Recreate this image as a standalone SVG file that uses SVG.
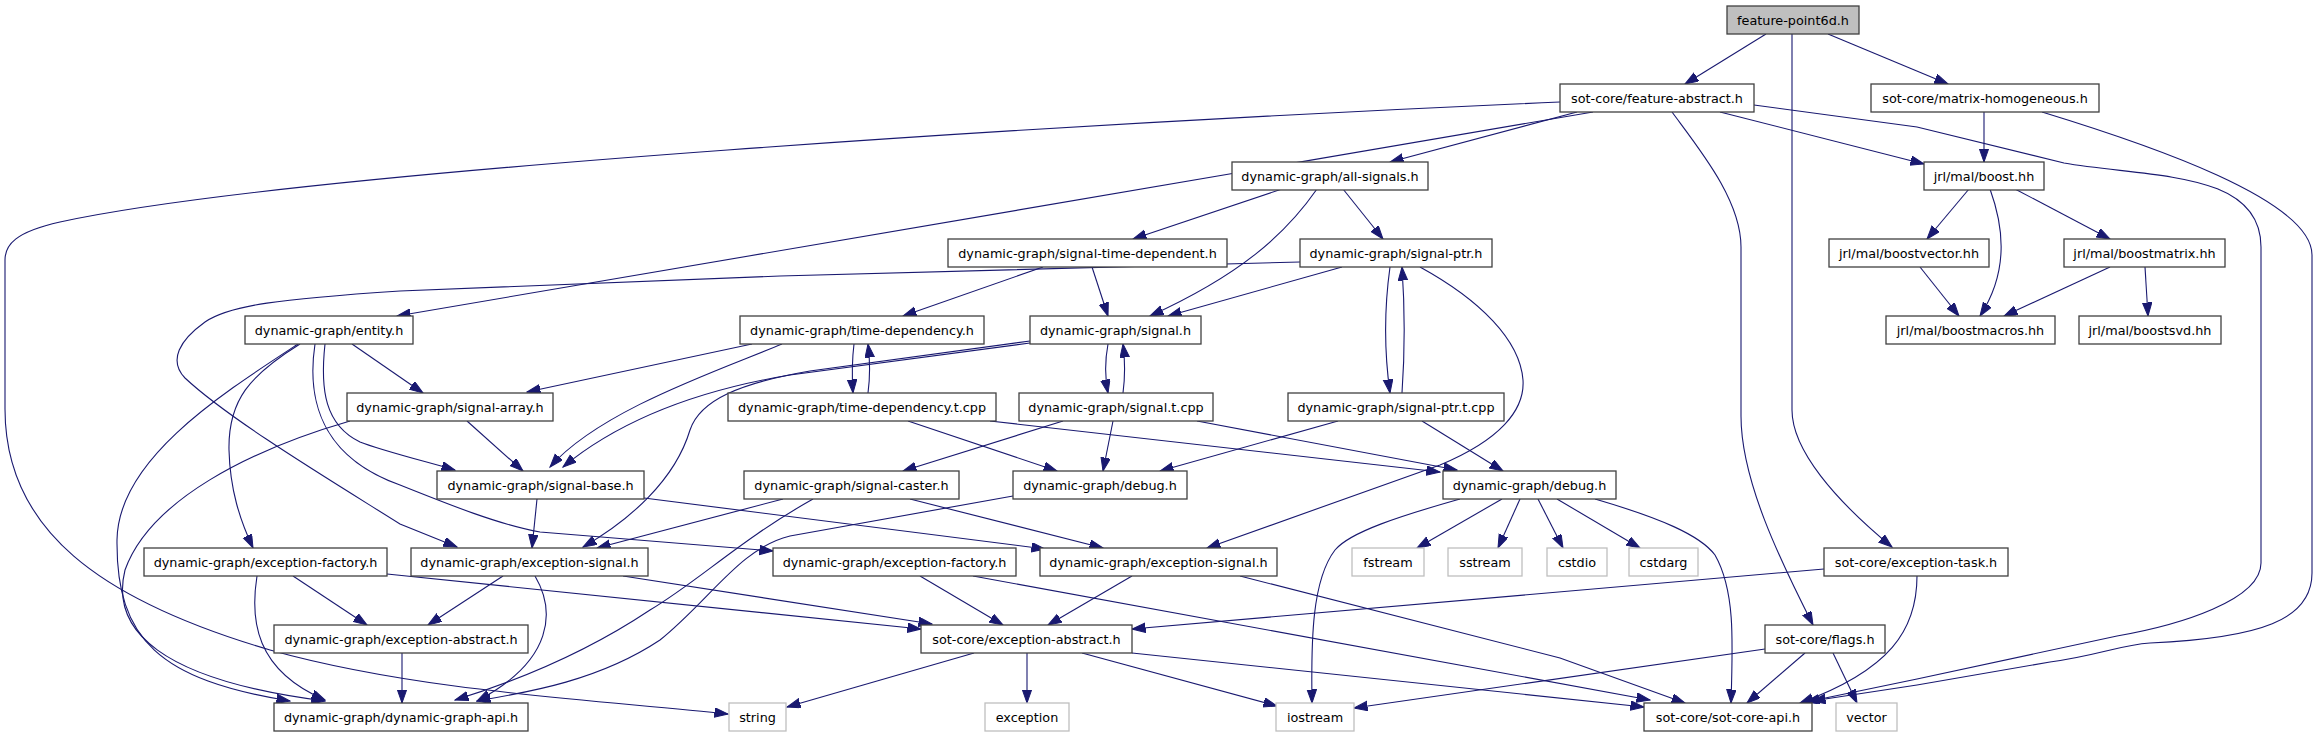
<svg xmlns="http://www.w3.org/2000/svg" width="2317" height="736" viewBox="0 0 2317 736">
<style>
.n rect{fill:#ffffff;stroke:#404040;stroke-width:1.3}
.x rect{fill:#ffffff;stroke:#bfbfbf;stroke-width:1.3}
.r rect{fill:#bfbfbf;stroke:#404040;stroke-width:1.3}
text{font-family:"DejaVu Sans","Liberation Sans",sans-serif;font-size:12.8px;fill:#000;text-anchor:middle}
#edges path{fill:none;stroke:#191970;stroke-width:1.1;marker-end:url(#ah)}
</style>
<defs>
<marker id="ah" markerWidth="15" markerHeight="11" refX="13.5" refY="4.75" orient="auto" markerUnits="userSpaceOnUse">
<path d="M0,0 L13.5,4.75 L0,9.5 z" fill="#191970" stroke="#191970" stroke-width="1"/>
</marker>
</defs>
<rect width="2317" height="736" fill="#ffffff"/>
<g id="edges">
<path d="M1766,34 L1685,84"/>
<path d="M1828,34 L1948,84"/>
<path d="M1792,34 L1792,410 C1792,450 1835,500 1892,547"/>
<path d="M1593,112 L397,316"/>
<path d="M1577,112 L1390,162"/>
<path d="M1720,112 L1924,164"/>
<path d="M1672,112 C1700,150 1741,200 1741,247 L1741,416 C1741,480 1780,560 1813,625"/>
<path d="M1754,105 L1917,127 L2064,163 C2150,178 2261,170 2261,247 L2261,563 C2261,600 2180,625 2117,636 L1917,679 L1806,702"/>
<path d="M1560,102 C1100,122 300,170 60,222 C15,232 5,245 5,260 L5,409 C5,530 100,600 270,650 C420,692 600,700 728,714"/>
<path d="M1984,112 L1984,162"/>
<path d="M2042,112 C2150,145 2312,200 2312,255 L2312,573 C2312,620 2260,638 2150,643 C2120,645 2100,655 2050,662 L1917,685 L1812,701"/>
<path d="M1969,189 L1927,239"/>
<path d="M1990,189 C2003,225 2010,270 1980,316"/>
<path d="M2015,189 L2110,239"/>
<path d="M1920,267 L1959,316"/>
<path d="M2110,267 L2004,316"/>
<path d="M2145,267 L2148,316"/>
<path d="M1282,189 L1133,239"/>
<path d="M1317,189 C1285,235 1240,275 1150,316"/>
<path d="M1343,189 L1383,239"/>
<path d="M1043,267 L903,316"/>
<path d="M1092,267 L1108,316"/>
<path d="M1342,267 L1168,316"/>
<path d="M1300,262 L780,276 L400,291 C280,299 230,305 205,322 C180,340 168,360 185,378 C230,420 330,480 400,524 L457,547"/>
<path d="M1390,267 C1384,310 1384,350 1390,393"/>
<path d="M1402,393 C1405,350 1405,310 1402,267"/>
<path d="M1420,267 C1480,300 1520,340 1523,380 C1525,410 1500,440 1440,465 L1207,548"/>
<path d="M1338,421 L1160,471"/>
<path d="M1422,421 L1503,471"/>
<path d="M1108,344 C1105,360 1105,378 1108,393"/>
<path d="M1123,393 C1125,378 1125,360 1123,344"/>
<path d="M1030,343 L790,375 C700,390 620,420 563,467"/>
<path d="M1030,341 L810,371 C740,383 700,400 690,430 C675,480 630,520 583,547"/>
<path d="M752,344 L527,392"/>
<path d="M782,344 C720,370 600,410 550,467"/>
<path d="M1113,421 L1103,471"/>
<path d="M1063,421 L903,471"/>
<path d="M1197,421 L1457,470"/>
<path d="M908,421 L1057,471"/>
<path d="M990,421 L1440,472"/>
<path d="M854,344 C852,360 852,378 853,393"/>
<path d="M868,393 C870,378 870,360 868,344"/>
<path d="M1502,499 L1417,548"/>
<path d="M1520,499 L1498,548"/>
<path d="M1538,499 L1563,548"/>
<path d="M1557,499 L1640,548"/>
<path d="M1595,499 C1660,518 1700,535 1715,555 C1735,590 1733,640 1731,703"/>
<path d="M1460,499 C1400,516 1350,532 1335,550 C1312,580 1311,640 1312,703"/>
<path d="M783,499 L597,548"/>
<path d="M910,499 L1103,548"/>
<path d="M813,499 C740,540 700,580 650,610 C590,650 520,680 455,700"/>
<path d="M1013,496 L790,536 C740,548 710,600 660,640 C600,680 530,692 477,701"/>
<path d="M537,499 L532,548"/>
<path d="M644,498 L1045,549"/>
<path d="M503,576 L428,625"/>
<path d="M535,576 C555,610 555,660 477,701"/>
<path d="M623,576 L932,624"/>
<path d="M387,574 L921,629"/>
<path d="M293,576 L367,625"/>
<path d="M257,576 C250,620 255,670 325,700"/>
<path d="M920,576 L1003,625"/>
<path d="M973,576 L1650,700"/>
<path d="M1132,576 L1048,625"/>
<path d="M1240,576 L1560,658 L1685,703"/>
<path d="M974,653 L787,707"/>
<path d="M1027,653 L1027,703"/>
<path d="M1082,653 L1277,706"/>
<path d="M1132,653 L1644,707"/>
<path d="M1805,653 L1747,703"/>
<path d="M1833,653 L1857,703"/>
<path d="M1765,649 L1354,708"/>
<path d="M1824,569 L1132,629"/>
<path d="M1917,576 C1917,630 1890,670 1800,703"/>
<path d="M402,653 L402,703"/>
<path d="M352,344 L423,393"/>
<path d="M325,344 C320,390 325,425 360,442 C380,450 420,460 455,470"/>
<path d="M315,344 C305,410 330,460 400,485 C450,505 500,525 540,532 L773,551"/>
<path d="M300,344 C250,375 228,400 229,450 C230,490 240,520 253,548"/>
<path d="M298,344 C220,395 118,460 117,540 C116,640 160,680 290,701"/>
<path d="M350,421 C250,450 150,500 125,570 C110,630 160,680 325,701"/>
<path d="M467,421 L523,471"/>
</g>
<g id="n_fp6d" class="r"><rect x="1727" y="6" width="132" height="28"/><text x="1793" y="25">feature-point6d.h</text></g>
<g id="n_fa" class="n"><rect x="1560" y="84" width="194" height="28"/><text x="1657" y="103">sot-core/feature-abstract.h</text></g>
<g id="n_mh" class="n"><rect x="1871" y="84" width="228" height="28"/><text x="1985" y="103">sot-core/matrix-homogeneous.h</text></g>
<g id="n_as" class="n"><rect x="1232" y="162" width="196" height="28"/><text x="1330" y="181">dynamic-graph/all-signals.h</text></g>
<g id="n_boost" class="n"><rect x="1924" y="162" width="120" height="28"/><text x="1984" y="181">jrl/mal/boost.hh</text></g>
<g id="n_std" class="n"><rect x="948" y="239" width="279" height="28"/><text x="1087.5" y="258">dynamic-graph/signal-time-dependent.h</text></g>
<g id="n_sp" class="n"><rect x="1300" y="239" width="192" height="28"/><text x="1396" y="258">dynamic-graph/signal-ptr.h</text></g>
<g id="n_bv" class="n"><rect x="1829" y="239" width="160" height="28"/><text x="1909" y="258">jrl/mal/boostvector.hh</text></g>
<g id="n_bm" class="n"><rect x="2064" y="239" width="161" height="28"/><text x="2144.5" y="258">jrl/mal/boostmatrix.hh</text></g>
<g id="n_ent" class="n"><rect x="245" y="316" width="168" height="28"/><text x="329" y="335">dynamic-graph/entity.h</text></g>
<g id="n_td" class="n"><rect x="740" y="316" width="244" height="28"/><text x="862" y="335">dynamic-graph/time-dependency.h</text></g>
<g id="n_sig" class="n"><rect x="1030" y="316" width="171" height="28"/><text x="1115.5" y="335">dynamic-graph/signal.h</text></g>
<g id="n_bmac" class="n"><rect x="1886" y="316" width="169" height="28"/><text x="1970.5" y="335">jrl/mal/boostmacros.hh</text></g>
<g id="n_bsvd" class="n"><rect x="2079" y="316" width="142" height="28"/><text x="2150" y="335">jrl/mal/boostsvd.hh</text></g>
<g id="n_sa" class="n"><rect x="347" y="393" width="206" height="28"/><text x="450" y="412">dynamic-graph/signal-array.h</text></g>
<g id="n_tdt" class="n"><rect x="728" y="393" width="268" height="28"/><text x="862" y="412">dynamic-graph/time-dependency.t.cpp</text></g>
<g id="n_st" class="n"><rect x="1019" y="393" width="194" height="28"/><text x="1116" y="412">dynamic-graph/signal.t.cpp</text></g>
<g id="n_spt" class="n"><rect x="1288" y="393" width="216" height="28"/><text x="1396" y="412">dynamic-graph/signal-ptr.t.cpp</text></g>
<g id="n_sb" class="n"><rect x="437" y="471" width="207" height="28"/><text x="540.5" y="490">dynamic-graph/signal-base.h</text></g>
<g id="n_sc" class="n"><rect x="744" y="471" width="215" height="28"/><text x="851.5" y="490">dynamic-graph/signal-caster.h</text></g>
<g id="n_dbg1" class="n"><rect x="1013" y="471" width="174" height="28"/><text x="1100" y="490">dynamic-graph/debug.h</text></g>
<g id="n_dbg2" class="n"><rect x="1443" y="471" width="173" height="28"/><text x="1529.5" y="490">dynamic-graph/debug.h</text></g>
<g id="n_ef1" class="n"><rect x="144" y="548" width="243" height="28"/><text x="265.5" y="567">dynamic-graph/exception-factory.h</text></g>
<g id="n_es1" class="n"><rect x="411" y="548" width="237" height="28"/><text x="529.5" y="567">dynamic-graph/exception-signal.h</text></g>
<g id="n_ef2" class="n"><rect x="773" y="548" width="243" height="28"/><text x="894.5" y="567">dynamic-graph/exception-factory.h</text></g>
<g id="n_es2" class="n"><rect x="1040" y="548" width="237" height="28"/><text x="1158.5" y="567">dynamic-graph/exception-signal.h</text></g>
<g id="n_fstream" class="x"><rect x="1352" y="548" width="72" height="28"/><text x="1388" y="567">fstream</text></g>
<g id="n_sstream" class="x"><rect x="1448" y="548" width="74" height="28"/><text x="1485" y="567">sstream</text></g>
<g id="n_cstdio" class="x"><rect x="1547" y="548" width="60" height="28"/><text x="1577" y="567">cstdio</text></g>
<g id="n_cstdarg" class="x"><rect x="1629" y="548" width="69" height="28"/><text x="1663.5" y="567">cstdarg</text></g>
<g id="n_et" class="n"><rect x="1824" y="548" width="184" height="28"/><text x="1916" y="567">sot-core/exception-task.h</text></g>
<g id="n_dea" class="n"><rect x="274" y="625" width="254" height="28"/><text x="401" y="644">dynamic-graph/exception-abstract.h</text></g>
<g id="n_sea" class="n"><rect x="921" y="625" width="211" height="28"/><text x="1026.5" y="644">sot-core/exception-abstract.h</text></g>
<g id="n_flags" class="n"><rect x="1765" y="625" width="120" height="28"/><text x="1825" y="644">sot-core/flags.h</text></g>
<g id="n_api" class="n"><rect x="274" y="703" width="254" height="28"/><text x="401" y="722">dynamic-graph/dynamic-graph-api.h</text></g>
<g id="n_string" class="x"><rect x="729" y="703" width="57" height="28"/><text x="757.5" y="722">string</text></g>
<g id="n_exception" class="x"><rect x="985" y="703" width="84" height="28"/><text x="1027" y="722">exception</text></g>
<g id="n_iostream" class="x"><rect x="1276" y="703" width="78" height="28"/><text x="1315" y="722">iostream</text></g>
<g id="n_sca" class="n"><rect x="1644" y="703" width="168" height="28"/><text x="1728" y="722">sot-core/sot-core-api.h</text></g>
<g id="n_vector" class="x"><rect x="1836" y="703" width="61" height="28"/><text x="1866.5" y="722">vector</text></g>
</svg>
